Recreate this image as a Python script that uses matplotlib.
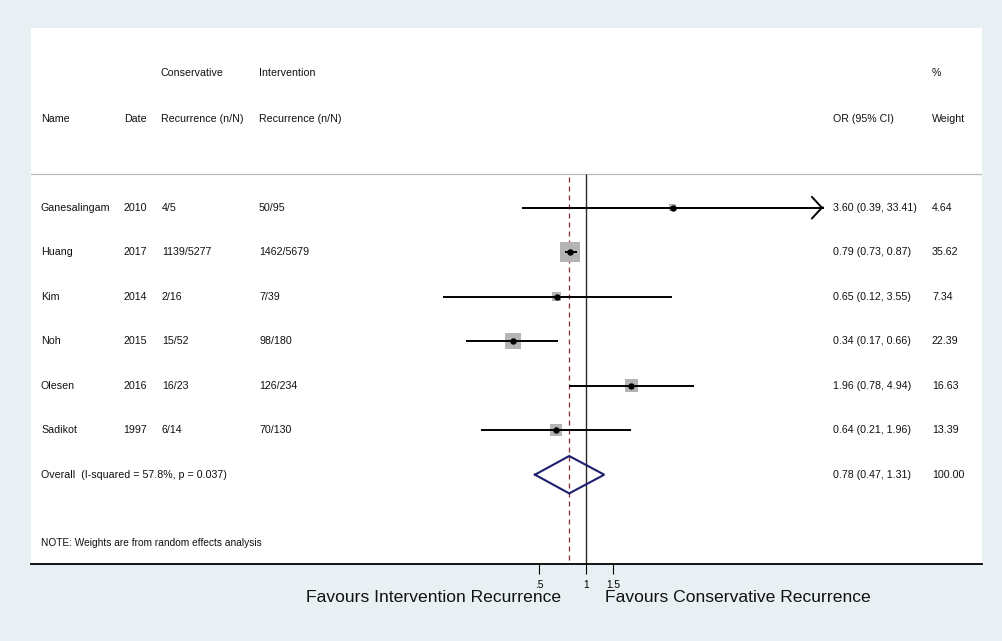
import numpy as np
import matplotlib
matplotlib.use("Agg")
import matplotlib.pyplot as plt
from matplotlib.transforms import blended_transform_factory

# ---- study data ----
names = ["Ganesalingam", "Huang", "Kim", "Noh", "Olesen", "Sadikot"]
years = ["2010", "2017", "2014", "2015", "2016", "1997"]
conservative = ["4/5", "1139/5277", "2/16", "15/52", "16/23", "6/14"]
intervention = ["50/95", "1462/5679", "7/39", "98/180", "126/234", "70/130"]
odds_ratio = [3.60, 0.79, 0.65, 0.34, 1.96, 0.64]
ci_low = [0.39, 0.73, 0.12, 0.17, 0.78, 0.21]
ci_high = [33.41, 0.87, 3.55, 0.66, 4.94, 1.96]
weights = [4.64, 35.62, 7.34, 22.39, 16.63, 13.39]

overall_or = 0.78
overall_low = 0.47
overall_high = 1.31
overall_weight = 100.00
overall_label = "Overall  (I-squared = 57.8%, p = 0.037)"
note_text = "NOTE: Weights are from random effects analysis"

tick_values = [0.5, 1, 1.5]
tick_labels = [".5", "1", "1.5"]
favours_left = "Favours Intervention Recurrence"
favours_right = "Favours Conservative Recurrence"

# ---- layout (pixels) ----
W, H = 1003, 641
panel_left, panel_right, panel_top, panel_bottom = 31, 982, 28, 564
x_null_px = 586          # horizontal pixel of OR = 1
px_per_log = 67.6        # pixels per unit of ln(OR)
row0_px, row_step = 207.7, 44.5

def row_of(py):
    return (py - row0_px) / row_step

plt.rcParams["font.family"] = ["Liberation Sans", "DejaVu Sans"]
bg = "#e9f0f3"
fig = plt.figure(figsize=(W / 100, H / 100), dpi=100, facecolor=bg)
ax = fig.add_axes([panel_left / W, (H - panel_bottom) / H,
                   (panel_right - panel_left) / W,
                   (panel_bottom - panel_top) / H])
ax.set_facecolor("white")
ax.set_xscale("log")
ax.set_xlim(np.exp((panel_left - x_null_px) / px_per_log),
            np.exp((panel_right - x_null_px) / px_per_log))
y_bottom, y_top = row_of(panel_bottom), row_of(panel_top)
ax.set_ylim(y_bottom, y_top)

for s in ("top", "left", "right"):
    ax.spines[s].set_visible(False)
ax.spines["bottom"].set_linewidth(1.3)
ax.set_yticks([])
ax.minorticks_off()
ax.set_xticks(tick_values)
ax.set_xticklabels(tick_labels)
ax.tick_params(axis="x", which="major", direction="out", length=7.2,
               width=0.8, pad=4, labelsize=7.3)
ax.xaxis.set_minor_locator(matplotlib.ticker.NullLocator())

rows = np.arange(len(names))
overall_row = len(names)
sep_row = row_of(174)

# header separator and reference lines
ax.axhline(sep_row, color="#b9b9b9", lw=0.9, zorder=1)
ax.vlines(1, sep_row, y_bottom, color="#2a2a2a", lw=1.0, zorder=2)
ax.vlines(overall_or, row_of(177), y_bottom, color="#8e2a36", lw=0.9,
          linestyles=(0, (4, 3.2)), zorder=2)

# study squares (area proportional to weight), CIs and point estimates
side_pt = 2.38 * np.sqrt(np.array(weights))
ax.scatter(odds_ratio, rows, s=side_pt ** 2, marker="s", color="#b4b4b4",
           linewidths=0, zorder=3)
ci_cap = 10
for r, lo, hi in zip(rows, ci_low, ci_high):
    ax.plot([lo, hi], [r, r], color="black", lw=1.4, zorder=4,
            solid_capstyle="butt")
    if hi > ci_cap:
        # open arrowhead marks a truncated interval
        ax.annotate("", xy=(hi, r), xytext=(hi / 1.001, r),
                    arrowprops=dict(arrowstyle="->,head_length=0.72,head_width=0.78",
                                    lw=1.4, color="black", shrinkA=0, shrinkB=0,
                                    mutation_scale=10), zorder=4)
ax.plot(odds_ratio, rows, "o", color="black", markersize=3.6, zorder=5)

# pooled estimate diamond
dh = 0.42
ax.plot([overall_low, overall_or, overall_high, overall_or, overall_low],
        [overall_row, overall_row - dh, overall_row, overall_row + dh, overall_row],
        color="#1d1f6e", lw=1.5, zorder=5, solid_joinstyle="miter")

# text columns
tr = blended_transform_factory(fig.transFigure, ax.transData)
fs = 7.7
def put(xpx, y, s, ha="left", size=fs):
    ax.text(xpx / W, y, s, transform=tr, ha=ha, va="center", fontsize=size,
            color="#111111", clip_on=False)

h1, h2 = row_of(73), row_of(118.5)
put(161, h1, "Conservative")
put(259, h1, "Intervention")
put(932, h1, "%")
put(41, h2, "Name")
put(147, h2, "Date", ha="right")
put(161, h2, "Recurrence (n/N)")
put(259, h2, "Recurrence (n/N)")
put(833, h2, "OR (95% CI)")
put(932, h2, "Weight")

for r in rows:
    put(41, r, names[r])
    put(147, r, years[r], ha="right")
    put(162, r, conservative[r])
    put(259, r, intervention[r])
    put(833, r, f"{odds_ratio[r]:.2f} ({ci_low[r]:.2f}, {ci_high[r]:.2f})")
    put(932, r, f"{weights[r]:.2f}")

put(41, overall_row, overall_label)
put(833, overall_row, f"{overall_or:.2f} ({overall_low:.2f}, {overall_high:.2f})")
put(932, overall_row, f"{overall_weight:.2f}")
put(41, row_of(543), note_text, size=7.3)

fig.text(561 / W, 1 - 597 / H, favours_left, ha="right", va="center",
         fontsize=12.6, color="#111111")
fig.text(605 / W, 1 - 597 / H, favours_right, ha="left", va="center",
         fontsize=12.6, color="#111111")

fig.savefig("out.png", dpi=100, facecolor=bg)
